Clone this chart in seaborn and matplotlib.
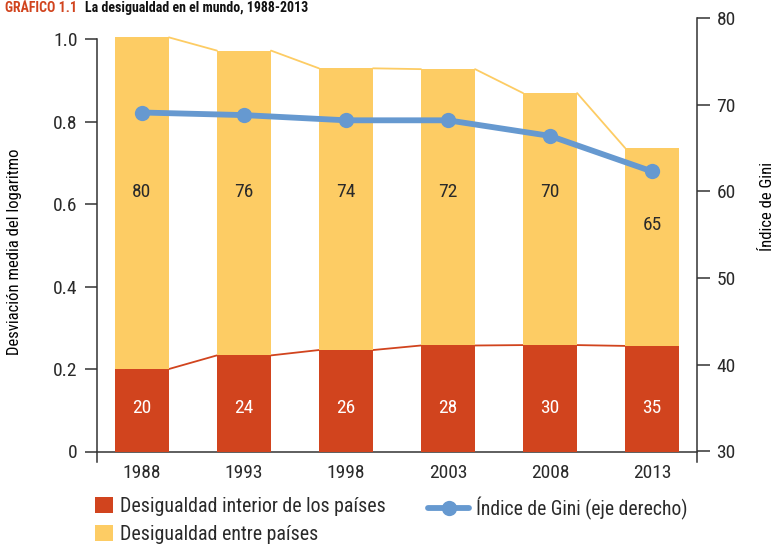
import matplotlib
matplotlib.use("Agg")
import matplotlib.pyplot as plt
import seaborn as sns
import numpy as np
import pandas as pd
from matplotlib.patches import Patch
from matplotlib.lines import Line2D

# ---- data ----
years = ["1988", "1993", "1998", "2003", "2008", "2013"]
within = [0.200, 0.233, 0.246, 0.257, 0.258, 0.256]      # Desigualdad interior (bottom)
total = [1.004, 0.972, 0.929, 0.927, 0.869, 0.736]       # top of stacked bar
within_pct = [20, 24, 26, 28, 30, 35]
between_pct = [80, 76, 74, 72, 70, 65]
gini = [69.1, 68.8, 68.2, 68.2, 66.4, 62.3]
left_ticks = [0, 0.2, 0.4, 0.6, 0.8, 1.0]
left_ticklabels = ["0", "0.2", "0.4", "0.6", "0.8", "1.0"]
right_ticks = [30, 40, 50, 60, 70, 80]

RED = "#D1441E"
YEL = "#FDCC64"
BLUE = "#6699D0"
DARK = "#333333"
TXT = "#2a2a2a"

sns.set_theme(style="white")
plt.rcParams["font.family"] = ["Roboto Condensed", "DejaVu Sans"]

fig = plt.figure(figsize=(7.77, 5.44), dpi=100)
ax = fig.add_axes([97 / 777, 1 - 451.5 / 544, 600 / 777, (451.5 - 18) / 544])

df = pd.DataFrame({"year": years, "within": within, "total": total})
sns.barplot(data=df, x="year", y="total", color=YEL, width=0.53, ax=ax,
            saturation=1, linewidth=0, zorder=2)
sns.barplot(data=df, x="year", y="within", color=RED, width=0.53, ax=ax,
            saturation=1, linewidth=0, zorder=3)

# series lines connecting bar tops
hw = 0.53 / 2
for i in range(len(years) - 1):
    ax.plot([i + hw, i + 1 - hw], [total[i], total[i + 1]], color=YEL, lw=1.3, zorder=1)
    ax.plot([i + hw, i + 1 - hw], [within[i], within[i + 1]], color=RED, lw=1.3, zorder=1)

ax.set_xlim(-0.44, 5.44)
ax.set_ylim(0, 1.051)
ax.set_xlabel("")
ax.set_ylabel("Desviación media del logaritmo", fontsize=12, color="black")
ax.yaxis.set_label_coords(-0.125, 0.46)
ax.set_yticks(left_ticks)
ax.set_yticklabels(left_ticklabels)
ax.tick_params(axis="y", direction="out", length=9, width=1.1, color=DARK,
               labelsize=14, labelcolor=TXT, left=True, pad=5)
ax.tick_params(axis="x", length=0, labelsize=14, labelcolor=TXT, pad=9)

for s in ["top", "right"]:
    ax.spines[s].set_visible(False)
ax.spines["left"].set_bounds(-0.025, 1.0)
ax.spines["left"].set_color(DARK)
ax.spines["left"].set_linewidth(1.1)
ax.spines["bottom"].set_color(DARK)
ax.spines["bottom"].set_linewidth(1.1)

# labels in bars
yel_label_y = [0.63, 0.63, 0.63, 0.63, 0.63, 0.55]
for i in range(len(years)):
    ax.text(i, yel_label_y[i], str(between_pct[i]), ha="center", va="center",
            fontsize=14, color=TXT, zorder=5)
    ax.text(i, 0.105, str(within_pct[i]), ha="center", va="center",
            fontsize=14, color="white", zorder=5)

# right axis
ax2 = ax.twinx()
ax2.set_ylim(30, 80)
sns.lineplot(x=list(range(len(years))), y=gini, ax=ax2, color=BLUE, lw=4.2,
             marker="o", markersize=11, markeredgewidth=0, zorder=6)
ax2.set_xlim(-0.44, 5.44)
ax2.set_yticks(right_ticks)
ax2.tick_params(axis="y", direction="out", length=9, width=1.1, color=DARK,
                labelsize=14, labelcolor=TXT, right=True, pad=5)
for s in ["top", "left", "bottom"]:
    ax2.spines[s].set_visible(False)
ax2.spines["right"].set_bounds(28.8, 80)
ax2.spines["right"].set_color(DARK)
ax2.spines["right"].set_linewidth(1.1)
ax2.set_ylabel("Índice de Gini", fontsize=12, color="black")
ax2.yaxis.set_label_coords(1.105, 0.565)

# title (only partly visible in reference; kept small and readable)
fig.text(0.007, 0.998, "GRÁFICO 1.1", color=RED, fontsize=10, fontweight="bold", va="top")
fig.text(0.110, 0.998, "La desigualdad en el mundo, 1988-2013", color="#111111",
         fontsize=10, fontweight="bold", va="top")

# legends
leg1 = fig.legend([Patch(facecolor=RED, edgecolor="none"), Patch(facecolor=YEL, edgecolor="none")],
                  ["Desigualdad interior de los países", "Desigualdad entre países"],
                  loc="upper left", bbox_to_anchor=(95 / 777, 1 - 496.5 / 544),
                  frameon=False, fontsize=14.3, labelcolor=TXT,
                  handlelength=0.9, handleheight=0.9, handletextpad=0.35,
                  labelspacing=0.47, borderaxespad=0, borderpad=0)
leg2 = fig.legend([Line2D([0], [0], color=BLUE, lw=4.2, marker="o", markersize=11, markeredgewidth=0)],
                  ["Índice de Gini (eje derecho)"],
                  loc="upper left", bbox_to_anchor=(428 / 777, 1 - 496.5 / 544),
                  frameon=False, fontsize=14.1, labelcolor=TXT,
                  handlelength=2.1, handletextpad=0.35, borderaxespad=0, borderpad=0)

fig.savefig("out.png", dpi=100)
